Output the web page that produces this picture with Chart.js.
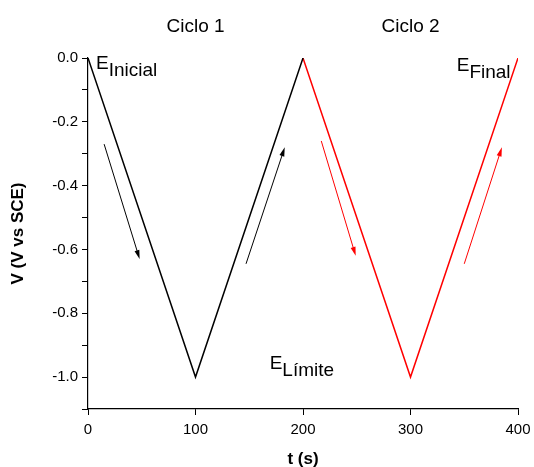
<!DOCTYPE html>
<html lang="en">
<head>
  <meta charset="UTF-8" />
  <title>Ciclos de potencial</title>
  <script src="https://cdn.jsdelivr.net/npm/chart.js"></script>
  <style>
    html, body { margin: 0; padding: 0; background: #fff; }
    #wrap { width: 534px; height: 467px; }
  </style>
</head>
<body>
  <div id="wrap"><canvas id="cv" width="534" height="467"></canvas></div>
  <script>
    // triangular sweep
    const ciclo1T = [0, 100, 200];
    const ciclo1V = [0.0, -1.0, 0.0];
    const ciclo2T = [200, 300, 400];
    const ciclo2V = [0.0, -1.0, 0.0];

    // arrows: [t0, v0, t1, v1, colour]
    const arrows = [
      [15, -0.27, 48, -0.63, '#000'],
      [147, -0.645, 183, -0.28, '#000'],
      [217, -0.26, 249, -0.62, '#f00'],
      [350, -0.645, 385, -0.28, '#f00']
    ];

    // labels: [t, v, main, sub]
    const labels = [
      [7.5, -0.035, 'E', 'Inicial'],
      [343, -0.042, 'E', 'Final'],
      [169, -0.975, 'E', 'Límite']
    ];
    const cycleTitles = [[100, 'Ciclo 1'], [300, 'Ciclo 2']];

    const FONT = '"Liberation Sans", Arial, sans-serif';
    const toXY = (ts, vs) => ts.map((t, i) => ({ x: t, y: vs[i] }));

    const annotate = {
      id: 'annotate',
      afterDraw(chart) {
        const ctx = chart.ctx;
        const xs = chart.scales.x, ys = chart.scales.y;
        ctx.save();
        arrows.forEach(a => {
          const x0 = xs.getPixelForValue(a[0]), y0 = ys.getPixelForValue(a[1]);
          const x1 = xs.getPixelForValue(a[2]), y1 = ys.getPixelForValue(a[3]);
          const ang = Math.atan2(y1 - y0, x1 - x0);
          ctx.strokeStyle = a[4];
          ctx.fillStyle = a[4];
          ctx.lineWidth = 1;
          ctx.beginPath();
          ctx.moveTo(x0, y0);
          ctx.lineTo(x1 - 6 * Math.cos(ang), y1 - 6 * Math.sin(ang));
          ctx.stroke();
          ctx.beginPath();
          ctx.moveTo(x1, y1);
          ctx.lineTo(x1 - 9 * Math.cos(ang) + 2.5 * Math.sin(ang), y1 - 9 * Math.sin(ang) - 2.5 * Math.cos(ang));
          ctx.lineTo(x1 - 9 * Math.cos(ang) - 2.5 * Math.sin(ang), y1 - 9 * Math.sin(ang) + 2.5 * Math.cos(ang));
          ctx.closePath();
          ctx.fill();
        });

        ctx.fillStyle = '#000';
        ctx.textBaseline = 'alphabetic';
        ctx.font = '19px ' + FONT;
        labels.forEach(l => {
          const x = xs.getPixelForValue(l[0]), y = ys.getPixelForValue(l[1]);
          ctx.textAlign = 'left';
          ctx.fillText(l[2], x, y);
          const w = ctx.measureText(l[2]).width;
          ctx.fillText(l[3], x + w, y + 7);
        });

        ctx.textAlign = 'center';
        cycleTitles.forEach(c => {
          ctx.fillText(c[1], xs.getPixelForValue(c[0]), 32);
        });
        ctx.restore();
      }
    };

    new Chart(document.getElementById('cv'), {
      type: 'line',
      data: {
        datasets: [
          { data: toXY(ciclo1T, ciclo1V), borderColor: '#000', borderWidth: 1.5, pointRadius: 0, tension: 0 },
          { data: toXY(ciclo2T, ciclo2V), borderColor: '#f00', borderWidth: 1.5, pointRadius: 0, tension: 0 }
        ]
      },
      options: {
        responsive: false,
        animation: false,
        layout: { padding: { left: 0, top: 58, right: 16, bottom: 0 } },
        plugins: { legend: { display: false }, tooltip: { enabled: false } },
        scales: {
          x: {
            type: 'linear',
            min: 0, max: 400,
            afterFit: s => { s.height = 58; s.paddingLeft = 0; s.paddingRight = 0; },
            border: { color: '#000', width: 1.2 },
            grid: { drawOnChartArea: false, drawTicks: true, tickLength: 6, color: '#000' },
            ticks: { stepSize: 100, color: '#000', padding: 6, font: { family: FONT, size: 15 } },
            title: { display: true, text: 't (s)', color: '#000', padding: { top: 0, bottom: -3 }, font: { family: FONT, size: 17, weight: 'bold' } }
          },
          y: {
            min: -1.1, max: 0,
            afterFit: s => { s.width = 88; },
            border: { color: '#000', width: 1.2 },
            grid: { drawOnChartArea: false, drawTicks: true, tickLength: 6, color: '#000' },
            ticks: {
              stepSize: 0.1, color: '#000', padding: 4,
              font: { family: FONT, size: 15 },
              callback: v => (Math.round(v * 10) % 2 === 0 ? v.toFixed(1) : '')
            },
            title: { display: true, text: 'V (V vs SCE)', color: '#000', padding: { top: 8, bottom: 0 }, font: { family: FONT, size: 17, weight: 'bold' } }
          }
        }
      },
      plugins: [annotate]
    });
  </script>
</body>
</html>
